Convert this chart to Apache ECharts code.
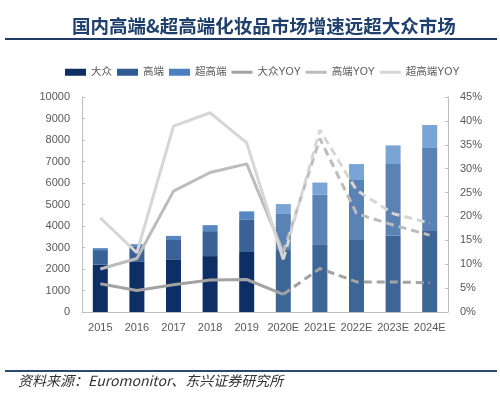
<!DOCTYPE html>
<html><head><meta charset="utf-8">
<script src="https://cdn.jsdelivr.net/npm/echarts@6/dist/echarts.min.js"></script>
<style>html,body{margin:0;padding:0;background:#fff}#c{width:500px;height:393px}</style>
</head><body><div id="c"></div>
<script>
var categories = ['2015','2016','2017','2018','2019','2020E','2021E','2022E','2023E','2024E'];
var massValues = [2200, 2330, 2450, 2600, 2790, 2880, 3150, 3350, 3550, 3770];
var highValues = [680, 700, 900, 1160, 1520, 1680, 2300, 2790, 3330, 3860];
var superValues = [90, 120, 190, 280, 370, 460, 570, 740, 870, 1070];
var massYoyActual = [5.9, 4.5, 5.7, 6.7, 6.8, 3.7, null, null, null, null];
var massYoyForecast = [null, null, null, null, null, 3.7, 9.1, 6.3, 6.3, 6.1];
var highYoyActual = [9.0, 11.2, 25.3, 29.2, 31.0, 12.5, null, null, null, null];
var highYoyForecast = [null, null, null, null, null, 12.5, 36.3, 20.6, 18.2, 16.1];
var superYoyActual = [19.7, 12.4, 38.9, 41.7, 35.4, 11.0, null, null, null, null];
var superYoyForecast = [null, null, null, null, null, 11.0, 38.1, 25.5, 20.6, 18.6];
var leftTicks = [0, 10000, 1000];
var rightTicks = [0, 45, 5];
var forecastStart = 5;

var chart = echarts.init(document.getElementById('c'));
function barData(vals, actualColor, fcColor) {
  return vals.map(function (v, i) {
    return { value: v, itemStyle: { color: i >= forecastStart ? fcColor : actualColor } };
  });
}
var font = '"Liberation Sans", "Noto Sans CJK SC", sans-serif';
var lineCols = ['#a3a3a3', '#bcbcbc', '#d6d6d6'];
var lineIcon = 'path://M0,0H21V3H0Z';
function lineSeries(name, data, color, dashed) {
  return {
    name: name, type: 'line', yAxisIndex: 1, data: data, symbol: 'none',
    connectNulls: false, z: dashed ? 4 : 5,
    lineStyle: { color: color, width: 3, type: dashed ? [8, 5] : 'solid' },
    itemStyle: { color: color }
  };
}
chart.setOption({
  animation: false,
  textStyle: { fontFamily: font },
  title: {
    text: '国内高端&超高端化妆品市场增速远超大众市场',
    left: 67, top: 12,
    textStyle: { fontSize: 18.5, fontWeight: 'bold', color: '#1f3f6d', fontFamily: '"Noto Sans CJK SC", sans-serif' }
  },
  graphic: [
    { type: 'line', shape: { x1: 5, y1: 39, x2: 497, y2: 39 }, style: { stroke: '#1f3a63', lineWidth: 2 } },
    { type: 'line', shape: { x1: 5, y1: 371, x2: 497, y2: 371 }, style: { stroke: '#2a4a74', lineWidth: 2 } },
    { type: 'text', left: 18, top: 374, style: { text: '资料来源：Euromonitor、东兴证券研究所', fill: '#333', font: 'italic 14px "Noto Sans CJK SC", sans-serif' } }
  ],
  legend: {
    top: 62, left: 60, itemWidth: 21, itemHeight: 7, itemGap: 5,
    textStyle: { fontSize: 10.5, color: '#595959' },
    data: [
      { name: '大众', icon: 'rect' }, { name: '高端', icon: 'rect' }, { name: '超高端', icon: 'rect' },
      { name: '大众YOY', icon: lineIcon }, { name: '高端YOY', icon: lineIcon }, { name: '超高端YOY', icon: lineIcon }
    ]
  },
  grid: { left: 82, right: 52, top: 97, bottom: 81 },
  xAxis: {
    type: 'category', data: categories,
    axisLine: { lineStyle: { color: '#bfbfbf', width: 1 } },
    axisTick: { show: false },
    axisLabel: { fontSize: 11, color: '#595959', margin: 10, interval: 0 }
  },
  yAxis: [
    {
      type: 'value', min: leftTicks[0], max: leftTicks[1], interval: leftTicks[2],
      splitLine: { show: false },
      axisLine: { show: true, lineStyle: { color: '#bfbfbf' } },
      axisTick: { show: true, inside: true, length: 3, lineStyle: { color: '#bfbfbf' } },
      axisLabel: { fontSize: 11, color: '#595959', margin: 12, formatter: function (v) { return String(v); } }
    },
    {
      type: 'value', min: rightTicks[0], max: rightTicks[1], interval: rightTicks[2], position: 'right',
      splitLine: { show: false },
      axisLine: { show: true, lineStyle: { color: '#bfbfbf' } },
      axisTick: { show: true, inside: true, length: 3, lineStyle: { color: '#bfbfbf' } },
      axisLabel: { fontSize: 11, color: '#595959', margin: 12, formatter: '{value}%' }
    }
  ],
  series: [
    { name: '大众', type: 'bar', stack: 'm', barWidth: 15, color: '#0e2f63', data: barData(massValues, '#0e2f63', '#3d6697') },
    { name: '高端', type: 'bar', stack: 'm', barWidth: 15, color: '#2f5a92', data: barData(highValues, '#3a6296', '#5a82b5') },
    { name: '超高端', type: 'bar', stack: 'm', barWidth: 15, color: '#4d7ebf', data: barData(superValues, '#5886c2', '#7ba4d6') },
    lineSeries('大众YOY', massYoyActual, lineCols[0], false),
    lineSeries('高端YOY', highYoyActual, lineCols[1], false),
    lineSeries('超高端YOY', superYoyActual, lineCols[2], false),
    lineSeries('大众YOY', massYoyForecast, lineCols[0], true),
    lineSeries('高端YOY', highYoyForecast, lineCols[1], true),
    lineSeries('超高端YOY', superYoyForecast, lineCols[2], true)
  ]
});
</script></body></html>
